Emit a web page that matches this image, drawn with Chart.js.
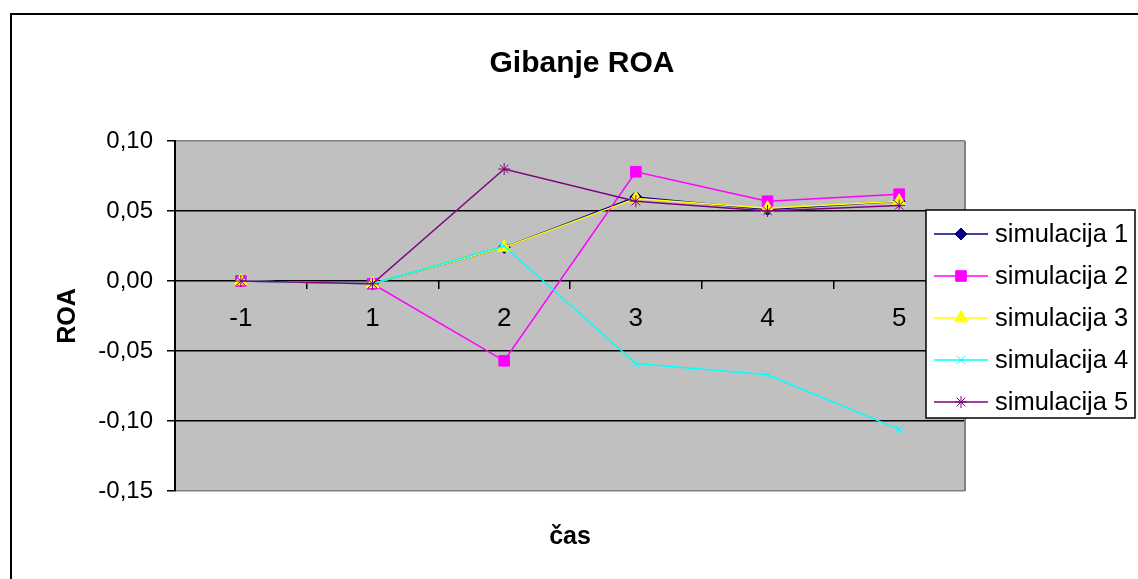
<!DOCTYPE html>
<html>
<head>
<meta charset="utf-8">
<script src="https://cdn.jsdelivr.net/npm/chart.js@4/dist/chart.umd.min.js"></script>
<style>
  html, body { margin: 0; padding: 0; background: #fff; }
  #wrap { width: 1138px; height: 579px; }
</style>
</head>
<body>
<div id="wrap"><canvas id="roaChart" width="1138" height="579"></canvas></div>
<script>
const categories = ['-1', '1', '2', '3', '4', '5'];
const seriesNames = ['simulacija 1', 'simulacija 2', 'simulacija 3', 'simulacija 4', 'simulacija 5'];
const sim1 = [0, -0.002, 0.024, 0.060, 0.051, 0.057];
const sim2 = [0, -0.002, -0.057, 0.078, 0.057, 0.062];
const sim3 = [0, -0.002, 0.024, 0.059, 0.052, 0.057];
const sim4 = [0, -0.002, 0.025, -0.059, -0.067, -0.106];
const sim5 = [0, -0.002, 0.080, 0.057, 0.050, 0.054];
const yTicks = [-0.15, -0.10, -0.05, 0, 0.05, 0.10];

const chartTitle = 'Gibanje ROA';
const xTitle = 'čas';
const yTitle = 'ROA';

function series(name, values, color, style, radius, order) {
    return {
        label: name,
        data: values,
        borderColor: color,
        backgroundColor: color,
        pointBackgroundColor: color,
        pointBorderColor: color,
        borderWidth: 1.5,
        pointStyle: style,
        pointRadius: radius,
        pointBorderWidth: 1,
        tension: 0,
        order: order
    };
}

// background, outer frame, plot border, titles and the legend box
const excelLook = {
    id: 'excelLook',
    beforeDraw(chart) {
        const ctx = chart.ctx;
        const a = chart.chartArea;
        ctx.save();
        ctx.fillStyle = '#ffffff';
        ctx.fillRect(0, 0, chart.width, chart.height);
        ctx.fillStyle = '#c0c0c0';
        ctx.fillRect(a.left, a.top, a.right - a.left, a.bottom - a.top);
        ctx.strokeStyle = '#000';
        ctx.lineWidth = 2;
        ctx.beginPath();
        ctx.moveTo(11, chart.height);
        ctx.lineTo(11, 14);
        ctx.lineTo(chart.width, 14);
        ctx.stroke();
        ctx.restore();
    },
    afterDraw(chart) {
        const ctx = chart.ctx;
        const a = chart.chartArea;
        ctx.save();
        ctx.strokeStyle = '#808080';
        ctx.lineWidth = 2;
        ctx.beginPath();
        ctx.moveTo(a.right, a.top);
        ctx.lineTo(a.right, a.bottom);
        ctx.stroke();

        ctx.fillStyle = '#000';
        ctx.textAlign = 'center';
        ctx.textBaseline = 'middle';
        ctx.font = 'bold 30px Arial, "Liberation Sans", sans-serif';
        ctx.fillText(chartTitle, 582, 64);
        ctx.font = 'bold 25px Arial, "Liberation Sans", sans-serif';
        ctx.fillText(xTitle, (a.left + a.right) / 2, 537);
        ctx.translate(68, (a.top + a.bottom) / 2);
        ctx.rotate(-Math.PI / 2);
        ctx.fillText(yTitle, 0, 0);
        ctx.restore();

        // legend
        ctx.save();
        const lx = 926, ly = 210, lw = 209, lh = 208;
        ctx.fillStyle = '#fff';
        ctx.fillRect(lx, ly, lw, lh);
        ctx.strokeStyle = '#000';
        ctx.lineWidth = 1.5;
        ctx.strokeRect(lx, ly, lw, lh);
        ctx.font = '25.5px Arial, "Liberation Sans", sans-serif';
        ctx.textAlign = 'left';
        ctx.textBaseline = 'middle';
        chart.data.datasets.forEach((ds, i) => {
            const y = 234 + i * 42;
            ctx.strokeStyle = ds.borderColor;
            ctx.lineWidth = 1.5;
            ctx.beginPath();
            ctx.moveTo(934, y);
            ctx.lineTo(988, y);
            ctx.stroke();
            ctx.fillStyle = ds.pointBackgroundColor;
            ctx.strokeStyle = ds.pointBorderColor;
            ctx.lineWidth = 1;
            Chart.helpers.drawPoint(ctx, {
                pointStyle: ds.pointStyle,
                radius: ds.pointRadius,
                rotation: 0,
                borderWidth: 1
            }, 961, y);
            ctx.fillStyle = '#000';
            ctx.fillText(ds.label, 995, y + 1);
        });
        ctx.restore();
    }
};

const ctx = document.getElementById('roaChart');
new Chart(ctx, {
    type: 'line',
    data: {
        labels: categories,
        datasets: [
            series(seriesNames[0], sim1, '#000080', 'rectRot', 6, 5),
            series(seriesNames[1], sim2, '#ff00ff', 'rect', 7.5, 4),
            series(seriesNames[2], sim3, '#ffff00', 'triangle', 7.5, 3),
            series(seriesNames[3], sim4, '#00ffff', 'crossRot', 6, 2),
            series(seriesNames[4], sim5, '#800080', 'star', 6, 1)
        ]
    },
    options: {
        responsive: false,
        animation: false,
        devicePixelRatio: 1,
        layout: {
            padding: { left: 10, top: 141, right: 173, bottom: 88 }
        },
        scales: {
            x: {
                type: 'category',
                position: { y: 0 },
                offset: true,
                grid: {
                    offset: true,
                    drawOnChartArea: false,
                    drawTicks: true,
                    tickLength: 8,
                    tickColor: '#000',
                    lineWidth: 1.5
                },
                border: { display: false },
                ticks: {
                    color: '#000',
                    padding: 14,
                    maxRotation: 0,
                    font: { family: 'Arial, "Liberation Sans", sans-serif', size: 26 }
                }
            },
            y: {
                min: -0.15,
                max: 0.10,
                afterBuildTicks(scale) {
                    scale.ticks = yTicks.map(v => ({ value: v }));
                },
                afterFit(scale) {
                    scale.width = 165;
                },
                grid: {
                    color(c) {
                        if (!c.tick) return '#000';
                        const v = c.tick.value;
                        return (v > 0.099 || v < -0.149) ? '#808080' : '#000';
                    },
                    lineWidth: 1.5,
                    tickLength: 8,
                    tickColor: '#000'
                },
                border: { display: true, color: '#000', width: 2 },
                ticks: {
                    color: '#000',
                    padding: 14,
                    font: { family: 'Arial, "Liberation Sans", sans-serif', size: 24 },
                    callback(v) {
                        const n = Math.abs(v) < 1e-9 ? 0 : v;
                        return n.toFixed(2).replace('.', ',');
                    }
                }
            }
        },
        plugins: {
            legend: { display: false },
            title: { display: false },
            tooltip: { enabled: false }
        }
    },
    plugins: [excelLook]
});
</script>
</body>
</html>
